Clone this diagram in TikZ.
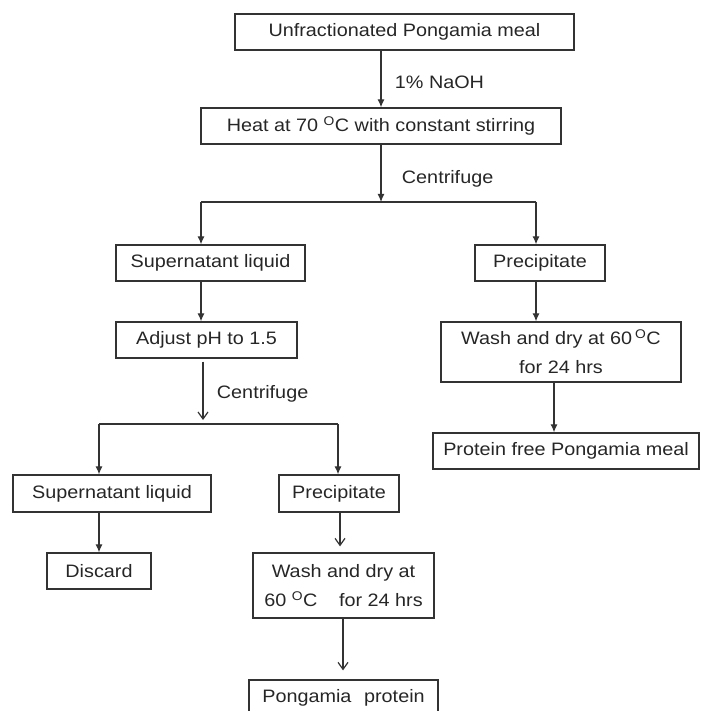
\documentclass[tikz,border=0pt]{standalone}
\usepackage{fontspec}
\setmainfont[FakeStretch=1.1]{Liberation Sans}
\usetikzlibrary{arrows.meta}

\newcommand{\degO}{\textsuperscript{O}}

\begin{document}
\begin{tikzpicture}[
    x=1pt, y=-1pt,
    % boxes of the flow chart
    stepbox/.style={
        rectangle,
        draw=black!80,
        line width=1.3pt,
        align=center,
        inner sep=0pt,
        text=black!85,
        font=\fontsize{18}{29}\selectfont
    },
    lbl/.style={anchor=west, text=black!85, font=\fontsize{18}{22}\selectfont},
    line/.style={draw=black!80, line width=1.2pt},
    arr/.style={line, -{Latex[length=8pt,width=7pt]}},
    oarr/.style={line, -{Straight Barb[length=7pt,width=10pt]}}
]
    \useasboundingbox (0,0) rectangle (707,711);

    % Nodes
    \node [stepbox, minimum width=339pt, minimum height=36pt] (meal) at (404.5,32) {Unfractionated Pongamia meal};
    \node [stepbox, minimum width=360pt, minimum height=36pt] (heat) at (381,126) {Heat at 70 \degO C with constant stirring};
    \node [stepbox, minimum width=189pt, minimum height=36pt] (supA) at (210.5,263) {Supernatant liquid};
    \node [stepbox, minimum width=130pt, minimum height=36pt] (precA) at (540,263) {Precipitate};
    \node [stepbox, minimum width=181pt, minimum height=36pt] (adjust) at (206.5,340) {Adjust pH to 1.5};
    \node [stepbox, minimum width=240pt, minimum height=60pt] (washA) at (561,352) {Wash and dry at 60\,\degO C\\for 24 hrs};
    \node [stepbox, minimum width=266pt, minimum height=36pt] (freemeal) at (566,451) {Protein free Pongamia meal};
    \node [stepbox, minimum width=198pt, minimum height=37pt] (supB) at (112,493.5) {Supernatant liquid};
    \node [stepbox, minimum width=120pt, minimum height=37pt] (precB) at (339,493.5) {Precipitate};
    \node [stepbox, minimum width=104pt, minimum height=36pt] (discard) at (99,571) {Discard};
    \node [stepbox, minimum width=181pt, minimum height=65pt] (washB) at (343.5,585.5) {Wash and dry at\\60 \degO C\hspace{1.2em}for 24 hrs};
    \node [stepbox, minimum width=189pt, minimum height=36pt] (protein) at (343.5,698) {Pongamia\hspace{0.4em} protein};

    % Split points
    \coordinate (splitA) at (381,202);
    \coordinate (leftA) at (201,202);
    \coordinate (rightA) at (536,202);
    \coordinate (splitB) at (203,420);
    \coordinate (leftB) at (99,424);
    \coordinate (rightB) at (338,424);

    % Paths (Arrows)
    \path [arr] (heat.north |- meal.south) -- (heat.north)
        node [lbl, pos=0.55, xshift=10pt] {1\% NaOH};
    \path [arr] (heat.south) -- (splitA)
        node [lbl, pos=0.6, xshift=17pt] {Centrifuge};
    \path [line] (leftA) -- (rightA);
    \path [arr] (leftA) -- (leftA |- supA.north);
    \path [arr] (rightA) -- (rightA |- precA.north);
    \path [arr] (leftA |- supA.south) -- (leftA |- adjust.north);
    \path [arr] (rightA |- precA.south) -- (rightA |- washA.north);
    \path [arr] (554,382 |- washA.south) -- (554,382 |- freemeal.north);
    \path [oarr] (splitB |- adjust.south) ++(0,3) -- (splitB)
        node [lbl, pos=0.55, xshift=10pt] {Centrifuge};
    \path [line] (leftB) -- (rightB);
    \path [arr] (leftB) -- (leftB |- supB.north);
    \path [arr] (rightB) -- (rightB |- precB.north);
    \path [arr] (leftB |- supB.south) -- (leftB |- discard.north);
    \path [oarr] (340,0 |- precB.south) -- ([yshift=6pt]340,0 |- washB.north);
    \path [oarr] (343,0 |- washB.south) -- ([yshift=9pt]343,0 |- protein.north);
\end{tikzpicture}
\end{document}
